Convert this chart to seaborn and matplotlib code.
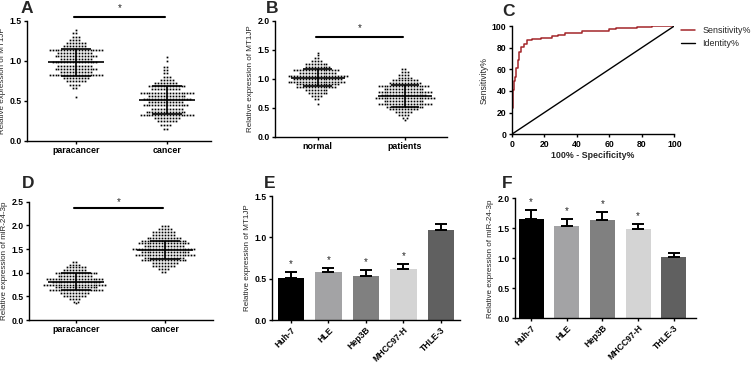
import numpy as np
import pandas as pd
import matplotlib
matplotlib.use("Agg")
import matplotlib.pyplot as plt
import seaborn as sns

# ---------------- data ----------------
# Panel A: MT1JP, paracancer vs cancer (dot rows: level -> number of dots)
a_groups = ["paracancer", "cancer"]
a_para_levels = [1.38, 1.34, 1.30, 1.26, 1.22, 1.18, 1.14, 1.10, 1.06, 1.02, 0.98, 0.94,
                 0.90, 0.86, 0.82, 0.78, 0.74, 0.70, 0.66, 0.55]
a_para_counts = [1, 2, 3, 4, 7, 8, 19, 12, 15, 11, 16, 12, 15, 11, 19, 9, 7, 4, 2, 1]
a_canc_levels = [1.04, 1.00, 0.92, 0.88, 0.84, 0.80, 0.76, 0.72, 0.68, 0.64, 0.60, 0.56,
                 0.52, 0.48, 0.44, 0.40, 0.36, 0.32, 0.28, 0.24, 0.20, 0.15]
a_canc_counts = [1, 1, 2, 2, 2, 3, 5, 8, 13, 10, 19, 13, 17, 12, 16, 11, 14, 19, 9, 7, 4, 2]
a_means = [0.98, 0.51]
a_sds = [0.165, 0.175]

# Panel B: MT1JP, normal vs patients
b_groups = ["normal", "patients"]
b_norm_levels = [1.45, 1.40, 1.35, 1.30, 1.25, 1.20, 1.15, 1.10, 1.05, 1.00, 0.95, 0.90,
                 0.85, 0.80, 0.75, 0.70, 0.65, 0.56]
b_norm_counts = [1, 1, 2, 4, 8, 9, 16, 13, 21, 17, 20, 15, 14, 8, 7, 4, 2, 1]
b_pat_levels = [1.17, 1.12, 1.07, 1.02, 0.97, 0.92, 0.87, 0.82, 0.77, 0.72, 0.67, 0.62,
                0.57, 0.52, 0.47, 0.42, 0.37, 0.32, 0.28]
b_pat_counts = [2, 3, 4, 5, 9, 11, 18, 14, 19, 16, 21, 14, 19, 13, 10, 6, 4, 2, 1]
b_means = [1.02, 0.70]
b_sds = [0.15, 0.19]

# Panel C: ROC curve (step vertices, %)
roc_fpr = [0, 0, 0.8, 0.8, 1.5, 1.5, 2.0, 2.0, 2.8, 2.8, 3.7, 3.7, 4.7, 4.7, 6.0, 6.0,
           7.8, 7.8, 9.2, 9.2, 12.3, 12.3, 18, 18, 24.6, 24.6, 28.7, 28.7, 33, 33,
           43, 43, 60, 60, 64, 64, 77, 77, 86, 86, 100]
roc_tpr = [0, 24, 24, 41, 41, 49, 49, 53, 53, 61, 61, 68.5, 68.5, 76, 76, 81,
           81, 83.5, 83.5, 87, 87, 88, 88, 89, 89, 90.8, 90.8, 92, 92, 93.3,
           93.3, 95, 95, 96.8, 96.8, 98, 98, 99.5, 99.5, 100, 100]
identity = [0, 100]

# Panel D: miR-24-3p, paracancer vs cancer
d_groups = ["paracancer", "cancer"]
d_para_levels = [1.23, 1.17, 1.11, 1.05, 0.99, 0.93, 0.87, 0.81, 0.75, 0.69, 0.63, 0.57,
                 0.51, 0.45, 0.39, 0.35]
d_para_counts = [2, 4, 7, 8, 15, 12, 20, 17, 22, 15, 19, 10, 8, 4, 2, 1]
d_canc_levels = [1.98, 1.92, 1.86, 1.80, 1.74, 1.68, 1.62, 1.56, 1.50, 1.44, 1.38, 1.32,
                 1.26, 1.20, 1.14, 1.08, 1.02]
d_canc_counts = [3, 5, 8, 8, 12, 16, 18, 14, 22, 17, 21, 14, 16, 9, 8, 4, 2]
d_means = [0.81, 1.48]
d_sds = [0.175, 0.20]

# Panels E / F: cell lines
cells = ["Huh-7", "HLE", "Hep3B", "MHCC97-H", "THLE-3"]
e_means = [0.51, 0.578, 0.534, 0.614, 1.084]
e_errs = [0.076, 0.052, 0.072, 0.066, 0.073]
f_means = [1.66, 1.544, 1.644, 1.489, 1.017]
f_errs = [0.14, 0.106, 0.123, 0.089, 0.077]
e_sig = [True, True, True, True, False]
bar_colors = ["#000000", "#a3a3a5", "#808080", "#d4d4d4", "#606060"]

# ---------------- styling ----------------
sns.set_theme(style="ticks")
plt.rcParams["font.family"] = ["Liberation Sans", "DejaVu Sans"]
plt.rcParams.update({
    "axes.linewidth": 1.0,
    "xtick.major.width": 1.0, "ytick.major.width": 1.0,
    "xtick.major.size": 2.3, "ytick.major.size": 2.3,
    "xtick.major.pad": 1.5, "ytick.major.pad": 1.5,
    "xtick.labelsize": 6.2, "ytick.labelsize": 6.2,
    "xtick.color": "black", "ytick.color": "black",
    "axes.edgecolor": "black",
})

W, H = 753, 367
fig = plt.figure(figsize=(W / 100, H / 100), dpi=100)
fig.patch.set_facecolor("white")


def rect(l, r, t, b):
    return [l / W, 1 - b / H, (r - l) / W, (b - t) / H]


def style_axes(ax):
    sns.despine(ax=ax)
    for lab in ax.get_xticklabels() + ax.get_yticklabels():
        lab.set_fontweight("bold")


def scatter_panel(ax, groups, levels, counts, means, sds, xlim, ylim, yticks,
                  ylabel, sig_y, star_y):
    vals, grp = [], []
    for g, lv, ct in zip(groups, levels, counts):
        v = np.repeat(lv, ct)
        vals.extend(v.tolist())
        grp.extend([g] * len(v))
    df = pd.DataFrame({"group": grp, "value": vals})
    sns.swarmplot(data=df, x="group", y="value", order=groups, color="black",
                  size=1.7, linewidth=0.3, edgecolor="white", ax=ax, warn_thresh=1.0)
    for i, (m, s) in enumerate(zip(means, sds)):
        ax.hlines(m, i - 0.31, i + 0.31, color="black", lw=1.2, zorder=5)
        ax.hlines([m - s, m + s], i - 0.165, i + 0.165, color="black", lw=1.2, zorder=5)
        ax.vlines(i, m - s, m + s, color="black", lw=1.2, zorder=5)
    ax.set_xlim(*xlim)
    ax.set_ylim(*ylim)
    ax.set_yticks(yticks)
    ax.set_yticklabels([f"{t:.1f}" for t in yticks])
    ax.set_xlabel("")
    ax.set_ylabel(ylabel, fontsize=5.8, labelpad=2.5)
    ax.tick_params(axis="x", labelsize=6.4)
    ax.plot([-0.02, 0.98], [sig_y, sig_y], color="black", lw=1.5, clip_on=False)
    ax.text(0.48, star_y, "*", ha="center", va="center", fontsize=7)
    style_axes(ax)


def bar_panel(ax, means, errs, xlim, ylim, yticks, ylabel):
    sns.barplot(x=cells, y=means, hue=cells, palette=bar_colors, legend=False,
                width=0.7, ax=ax, errorbar=None, linewidth=0, saturation=1)
    x = np.arange(len(cells))
    ax.errorbar(x, means, yerr=[np.zeros(len(errs)), errs], fmt="none", ecolor="black",
                elinewidth=1.4, capsize=4.2, capthick=1.4, zorder=5)
    for i, (m, e, s) in enumerate(zip(means, errs, e_sig)):
        if s:
            ax.annotate("*", (i, m + e), xytext=(0, 2), textcoords="offset points",
                        ha="center", va="bottom", fontsize=7)
    ax.set_xlim(*xlim)
    ax.set_ylim(*ylim)
    ax.set_yticks(yticks)
    ax.set_yticklabels([f"{t:.1f}" for t in yticks])
    ax.set_xticks(x)
    ax.set_xticklabels(cells, rotation=45, ha="right", rotation_mode="anchor")
    ax.set_ylabel(ylabel, fontsize=5.8, labelpad=2.5)
    ax.set_xlabel("")
    style_axes(ax)


# ---- A ----
axA = fig.add_axes(rect(27, 211, 20.7, 140.7))
scatter_panel(axA, a_groups, [a_para_levels, a_canc_levels], [a_para_counts, a_canc_counts],
              a_means, a_sds, (-0.538, 1.484), (0, 1.5), [0, 0.5, 1.0, 1.5],
              "Relative expression of MT1JP", 1.54, 1.66)

# ---- B ----
axB = fig.add_axes(rect(275, 446.7, 20.7, 136.7))
scatter_panel(axB, b_groups, [b_norm_levels, b_pat_levels], [b_norm_counts, b_pat_counts],
              b_means, b_sds, (-0.489, 1.478), (0, 2.0), [0, 0.5, 1.0, 1.5, 2.0],
              "Relative expression of MT1JP", 1.72, 1.87)

# ---- C ----
axC = fig.add_axes(rect(511.7, 674.3, 26, 134.3))
sns.lineplot(x=roc_fpr, y=roc_tpr, estimator=None, sort=False, color="#a3262a",
             lw=1.1, ax=axC, label="Sensitivity%")
sns.lineplot(x=identity, y=identity, estimator=None, sort=False, color="black",
             lw=1.0, ax=axC, label="Identity%")
axC.set_xlim(0, 100)
axC.set_ylim(0, 100)
axC.set_xticks([0, 20, 40, 60, 80, 100])
axC.set_yticks([0, 20, 40, 60, 80, 100])
axC.set_xlabel("100% - Specificity%", fontsize=6.4, fontweight="bold", labelpad=2)
axC.set_ylabel("Sensitivity%", fontsize=6.2, labelpad=2)
axC.legend(loc="upper left", bbox_to_anchor=(1.02, 1.03), frameon=False, fontsize=6.4,
           handlelength=1.6, handletextpad=0.8, labelspacing=0.4, borderaxespad=0)
style_axes(axC)

# ---- D ----
axD = fig.add_axes(rect(29, 213, 201.7, 320))
scatter_panel(axD, d_groups, [d_para_levels, d_canc_levels], [d_para_counts, d_canc_counts],
              d_means, d_sds, (-0.528, 1.539), (0, 2.5), [0, 0.5, 1.0, 1.5, 2.0, 2.5],
              "Relative expression of miR-24-3p", 2.36, 2.5)

# ---- E ----
axE = fig.add_axes(rect(272, 460, 196, 320))
bar_panel(axE, e_means, e_errs, (-0.507, 4.51), (0, 1.5), [0, 0.5, 1.0, 1.5],
          "Relative expression of MT1JP")

# ---- F ----
axF = fig.add_axes(rect(515, 696, 198.3, 318.3))
bar_panel(axF, f_means, f_errs, (-0.45, 4.62), (0, 2.0), [0, 0.5, 1.0, 1.5, 2.0],
          "Relative expression of miR-24-3p")

# ---- panel letters ----
for letter, (px, py) in zip("ABCDEF", [(21, 1), (266, 1), (502, 4), (22, 176), (264, 176), (502, 176)]):
    fig.text(px / W, 1 - py / H, letter, fontsize=12.5, fontweight="bold",
             ha="left", va="top")

fig.savefig("out.png", dpi=100, facecolor="white")
